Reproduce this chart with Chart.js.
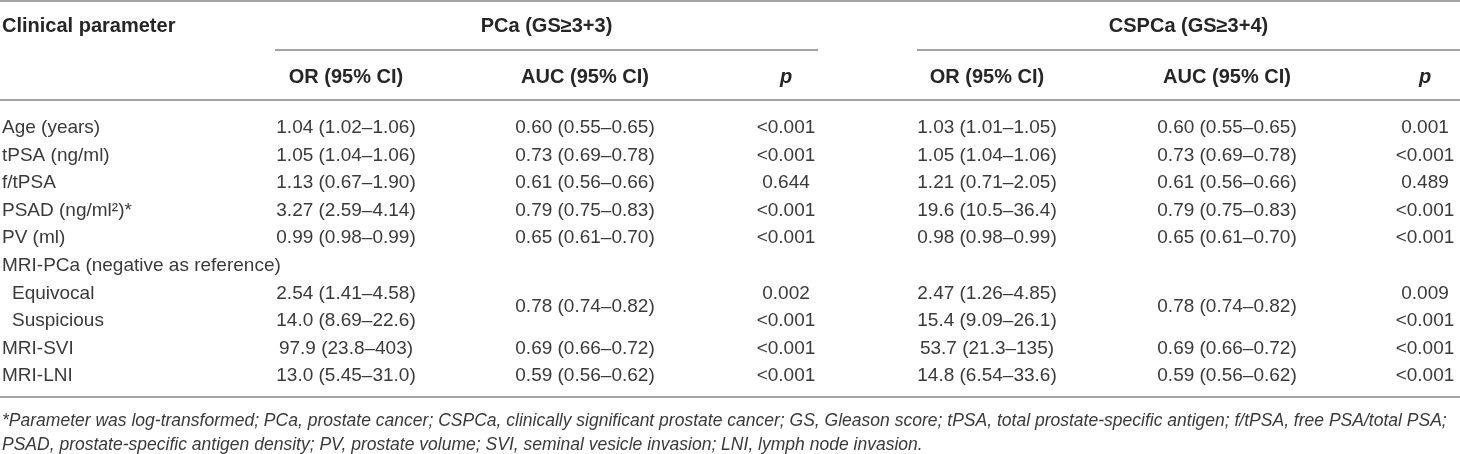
<!DOCTYPE html>
<html>
<head>
<meta charset="utf-8">
<title>PCa / CSPCa clinical parameters</title>
<script src="https://cdn.jsdelivr.net/npm/chart.js@4.4.1/dist/chart.umd.min.js"></script>
<style>
  html, body { margin: 0; padding: 0; background: #fff; }
  #wrap { width: 1460px; height: 454px; }
</style>
</head>
<body>
<div id="wrap"><canvas id="table"></canvas></div>
<script>
// 📋 TABLE CONTENT
const parameters = [
  "Age (years)", "tPSA (ng/ml)", "f/tPSA", "PSAD (ng/ml²)*", "PV (ml)",
  "MRI-PCa (negative as reference)", "Equivocal", "Suspicious", "MRI-SVI", "MRI-LNI"
];
const indented = [false, false, false, false, false, false, true, true, false, false];

const groups = ["PCa (GS≥3+3)", "CSPCa (GS≥3+4)"];
const subHeaders = ["OR (95% CI)", "AUC (95% CI)", "p"];

// "" = empty cell, null = merged with the cell above
const pcaOR = ["1.04 (1.02–1.06)", "1.05 (1.04–1.06)", "1.13 (0.67–1.90)", "3.27 (2.59–4.14)", "0.99 (0.98–0.99)", "", "2.54 (1.41–4.58)", "14.0 (8.69–22.6)", "97.9 (23.8–403)", "13.0 (5.45–31.0)"];
const pcaAUC = ["0.60 (0.55–0.65)", "0.73 (0.69–0.78)", "0.61 (0.56–0.66)", "0.79 (0.75–0.83)", "0.65 (0.61–0.70)", "", "0.78 (0.74–0.82)", null, "0.69 (0.66–0.72)", "0.59 (0.56–0.62)"];
const pcaP = ["<0.001", "<0.001", "0.644", "<0.001", "<0.001", "", "0.002", "<0.001", "<0.001", "<0.001"];
const cspcaOR = ["1.03 (1.01–1.05)", "1.05 (1.04–1.06)", "1.21 (0.71–2.05)", "19.6 (10.5–36.4)", "0.98 (0.98–0.99)", "", "2.47 (1.26–4.85)", "15.4 (9.09–26.1)", "53.7 (21.3–135)", "14.8 (6.54–33.6)"];
const cspcaAUC = ["0.60 (0.55–0.65)", "0.73 (0.69–0.78)", "0.61 (0.56–0.66)", "0.79 (0.75–0.83)", "0.65 (0.61–0.70)", "", "0.78 (0.74–0.82)", null, "0.69 (0.66–0.72)", "0.59 (0.56–0.62)"];
const cspcaP = ["0.001", "<0.001", "0.489", "<0.001", "<0.001", "", "0.009", "<0.001", "<0.001", "<0.001"];

const footnotes = [
  "*Parameter was log-transformed; PCa, prostate cancer; CSPCa, clinically significant prostate cancer; GS, Gleason score; tPSA, total prostate-specific antigen; f/tPSA, free PSA/total PSA;",
  "PSAD, prostate-specific antigen density; PV, prostate volume; SVI, seminal vesicle invasion; LNI, lymph node invasion."
];

// 📐 LAYOUT (page is 1460 x 454, scales run in the same units)
const W = 1460, H = 454;
const labelX = 2, indentX = 12;
const colX = [346, 585, 786, 987, 1227, 1425];
const groupSpans = [[275, 818], [917, 1460]];
const header1Y = 26, underlineY = 50, header2Y = 77;
const topRuleY = 1, headRuleY = 100, bottomRuleY = 397;
const rowY0 = 128, rowStep = 27.55;
const footY = [421.5, 445.5];
const FONT = "'Liberation Sans', Arial, Helvetica, sans-serif";
const TEXT = "#3a3a3a";
const HEAD = "#262626";
const RULE = "#a3a3a3";

function rowY(i) { return rowY0 + i * rowStep; }

// BUILD DATASETS (one per column, points carry the cell text)
const columns = [pcaOR, pcaAUC, pcaP, cspcaOR, cspcaAUC, cspcaP];
const datasets = columns.map((col, c) => {
  const pts = [], texts = [];
  col.forEach((v, i) => {
    if (v === null || v === "") return;
    const merged = col[i + 1] === null;
    pts.push({ x: colX[c], y: merged ? (rowY(i) + rowY(i + 1)) / 2 : rowY(i) });
    texts.push(v);
  });
  return { data: pts, texts: texts, align: "center", pointRadius: 0 };
});
datasets.push({
  data: parameters.map((p, i) => ({ x: indented[i] ? indentX : labelX, y: rowY(i) })),
  texts: parameters,
  align: "left",
  pointRadius: 0
});

// CELL TEXT
const cellText = {
  id: "cellText",
  afterDatasetsDraw(chart) {
    const ctx = chart.ctx;
    ctx.save();
    ctx.fillStyle = TEXT;
    ctx.font = "19px " + FONT;
    ctx.textBaseline = "middle";
    chart.data.datasets.forEach((ds, d) => {
      ctx.textAlign = ds.align;
      chart.getDatasetMeta(d).data.forEach((pt, j) => {
        ctx.fillText(ds.texts[j], pt.x, pt.y);
      });
    });
    ctx.restore();
  }
};

// HEADERS, RULES, FOOTNOTES
const frame = {
  id: "frame",
  afterDraw(chart) {
    const ctx = chart.ctx;
    const x = chart.scales.x, y = chart.scales.y;
    ctx.save();

    function rule(x1, x2, yy, w) {
      ctx.strokeStyle = RULE;
      ctx.lineWidth = w;
      ctx.beginPath();
      ctx.moveTo(x.getPixelForValue(x1), y.getPixelForValue(yy));
      ctx.lineTo(x.getPixelForValue(x2), y.getPixelForValue(yy));
      ctx.stroke();
    }
    rule(0, W, topRuleY, 2);
    groupSpans.forEach(s => rule(s[0], s[1], underlineY, 2));
    rule(0, W, headRuleY, 2);
    rule(0, W, bottomRuleY, 2);

    ctx.fillStyle = HEAD;
    ctx.textBaseline = "middle";
    ctx.font = "bold 20px " + FONT;
    ctx.textAlign = "left";
    ctx.fillText("Clinical parameter", x.getPixelForValue(labelX), y.getPixelForValue(header1Y));

    ctx.textAlign = "center";
    groups.forEach((g, k) => {
      const mid = (groupSpans[k][0] + groupSpans[k][1]) / 2;
      ctx.fillText(g, x.getPixelForValue(mid), y.getPixelForValue(header1Y));
    });
    colX.forEach((cx, c) => {
      const h = subHeaders[c % 3];
      ctx.font = (h === "p" ? "italic bold 20px " : "bold 20px ") + FONT;
      ctx.fillText(h, x.getPixelForValue(cx), y.getPixelForValue(header2Y));
    });

    // footnotes, sized so the first line fills the width
    ctx.fillStyle = TEXT;
    ctx.textAlign = "left";
    ctx.font = "italic 18px " + FONT;
    const size = Math.min(19, 18 * (1445 / ctx.measureText(footnotes[0]).width));
    ctx.font = "italic " + size.toFixed(2) + "px " + FONT;
    footnotes.forEach((f, k) => {
      ctx.fillText(f, x.getPixelForValue(labelX), y.getPixelForValue(footY[k]));
    });
    ctx.restore();
  }
};

new Chart(document.getElementById("table"), {
  type: "scatter",
  data: { datasets: datasets },
  options: {
    responsive: true,
    maintainAspectRatio: false,
    animation: false,
    events: [],
    layout: { padding: 0 },
    plugins: { legend: { display: false }, tooltip: { enabled: false } },
    scales: {
      x: { type: "linear", min: 0, max: W, display: false },
      y: { type: "linear", min: 0, max: H, reverse: true, display: false }
    }
  },
  plugins: [cellText, frame]
});
</script>
</body>
</html>
